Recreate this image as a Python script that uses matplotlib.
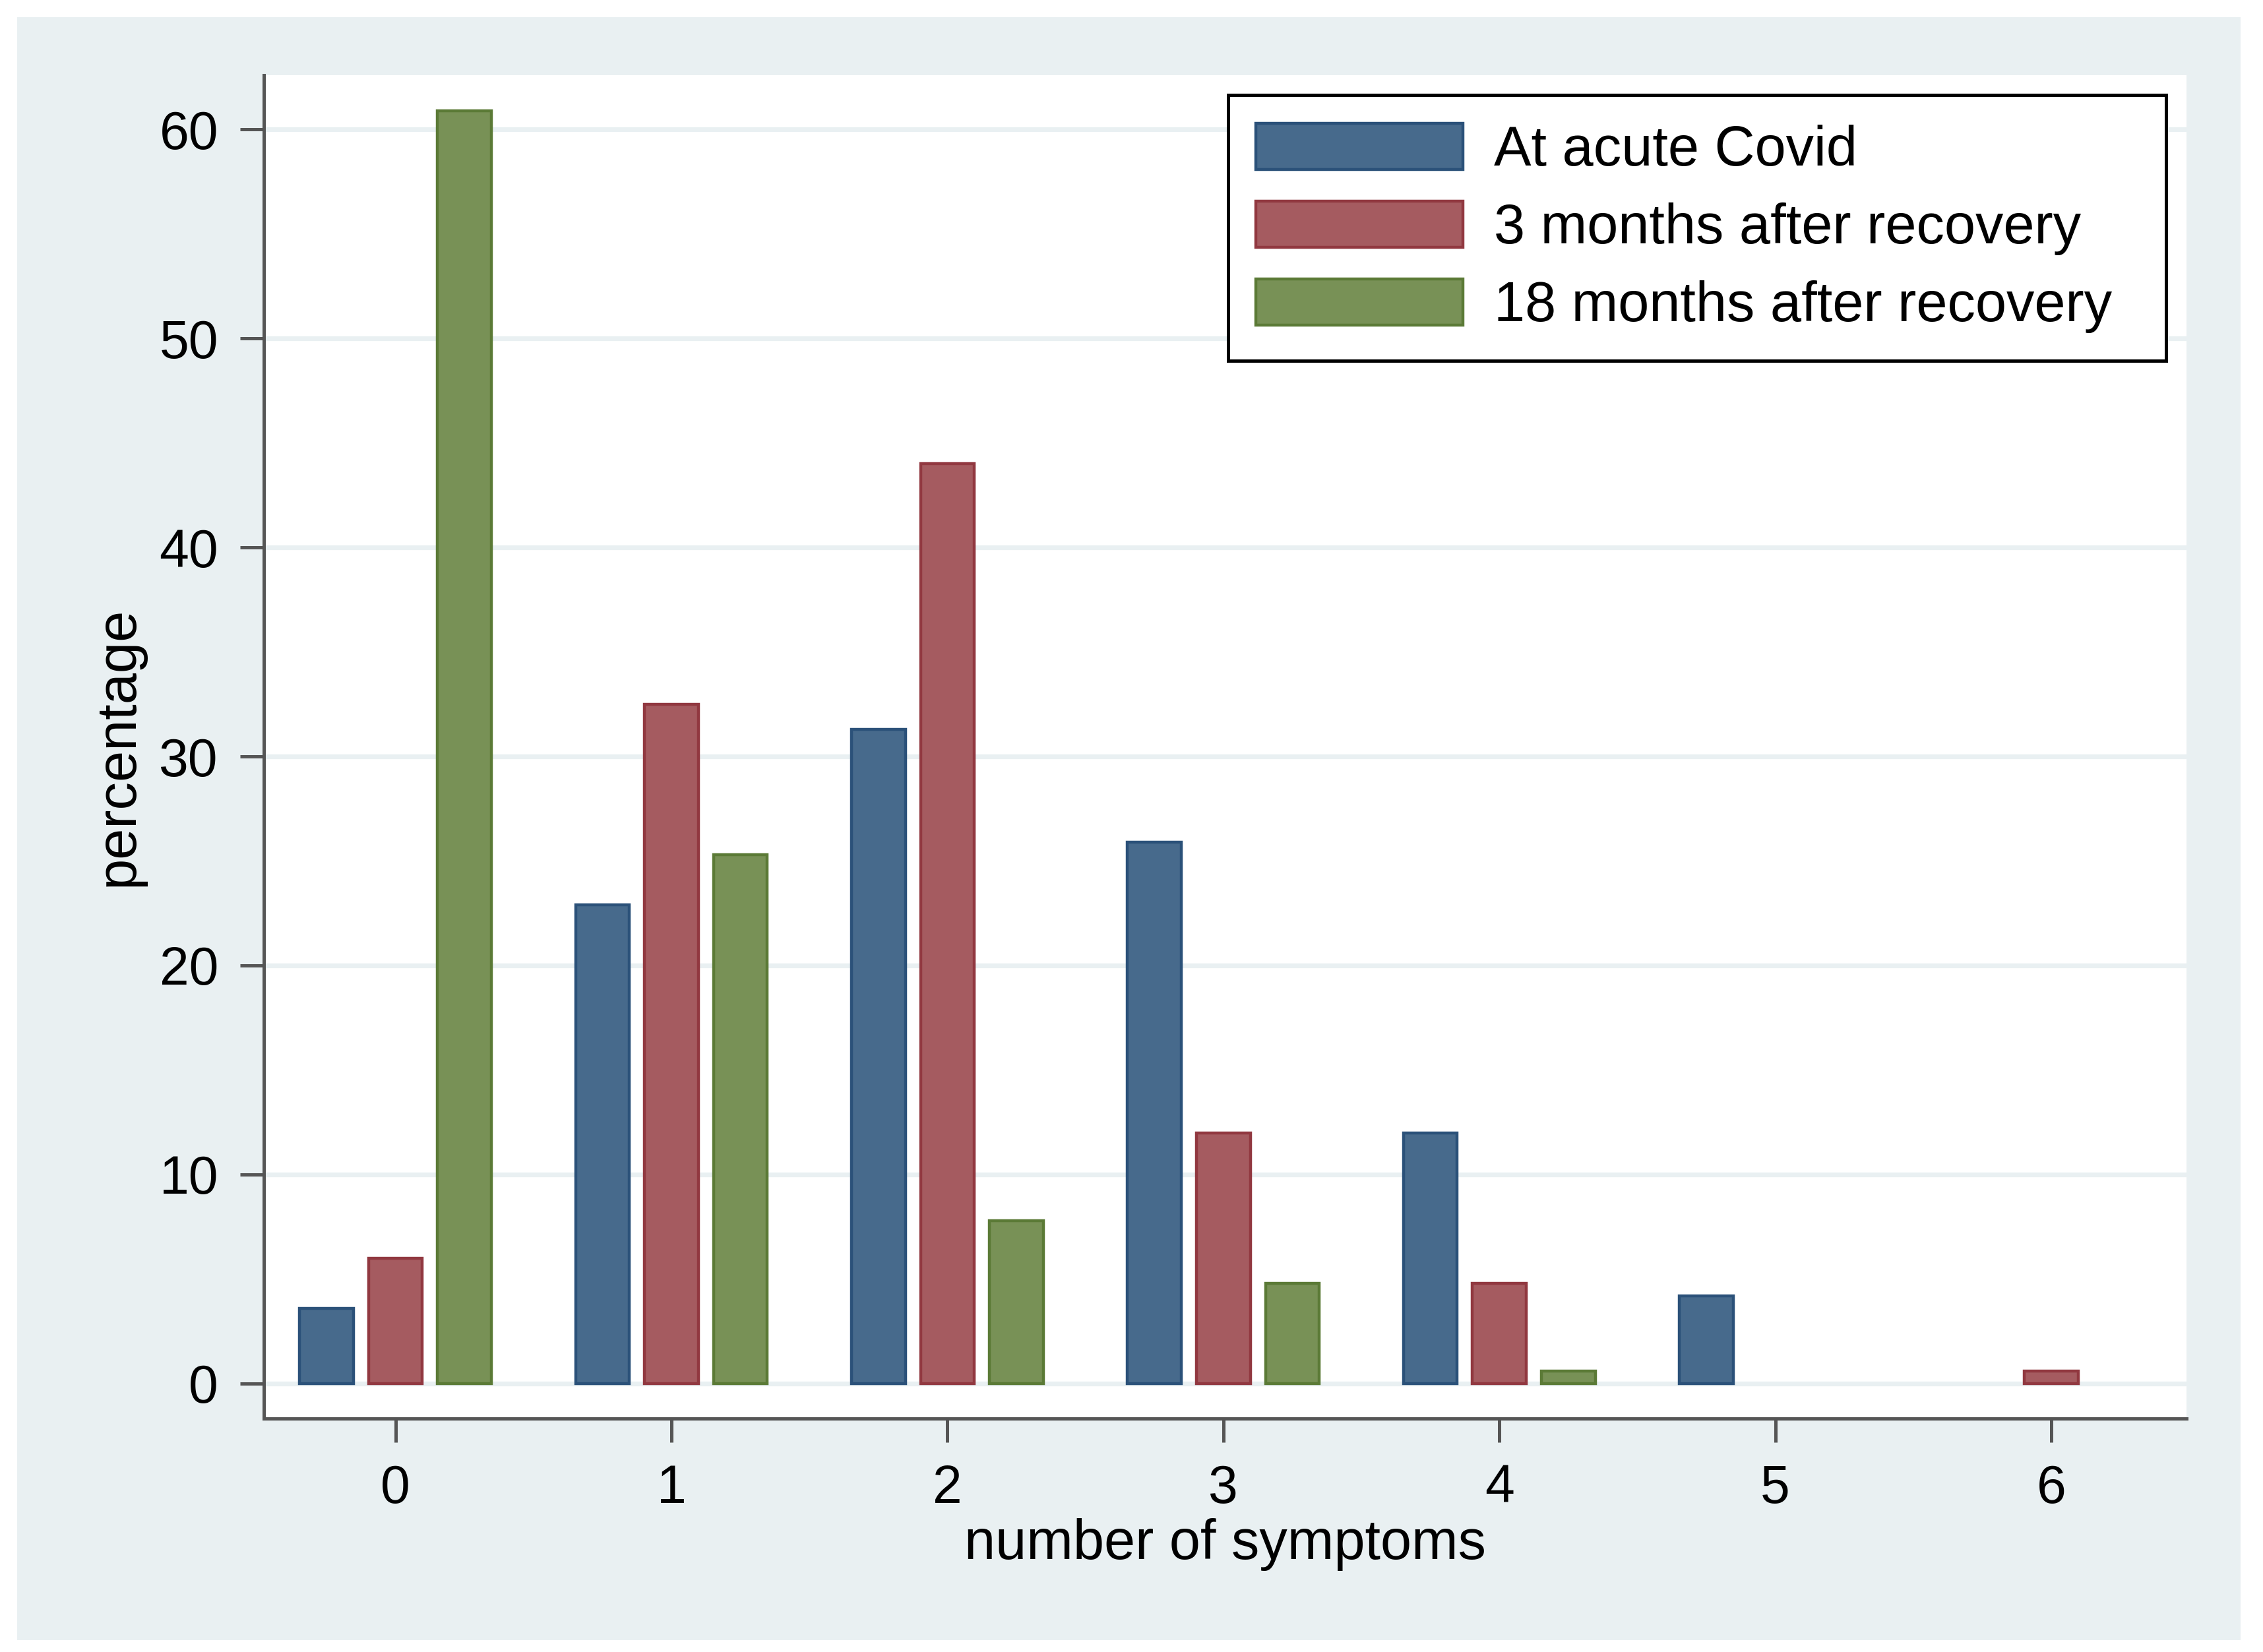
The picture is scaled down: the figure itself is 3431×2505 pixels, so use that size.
import matplotlib
matplotlib.use("Agg")
import matplotlib.pyplot as plt
import numpy as np
from matplotlib.patches import Rectangle

plt.rcParams["font.family"] = ["Liberation Sans", "DejaVu Sans"]

symptoms = [0, 1, 2, 3, 4, 5, 6]
series_names = ["At acute Covid", "3 months after recovery", "18 months after recovery"]
acute = [3.6, 22.9, 31.3, 25.9, 12.0, 4.2, 0.0]
months3 = [6.0, 32.5, 44.0, 12.0, 4.8, 0.0, 0.6]
months18 = [60.9, 25.3, 7.8, 4.8, 0.6, 0.0, 0.0]

fills = ["#476a8c", "#a55b60", "#789156"]
edges = ["#2b5179", "#913840", "#5b7a36"]
bg = "#e9f0f2"

fig = plt.figure(figsize=(3431 / 200, 2505 / 200), dpi=200, facecolor="white")
fig.patches.append(Rectangle((0.0077, 0.007), 0.9823, 0.9825, transform=fig.transFigure,
                             facecolor=bg, edgecolor="none", zorder=-10))
ax = fig.add_axes([0.1167, 0.1415, 0.8495, 0.8131])
ax.set_facecolor("white")

x = np.array(symptoms)
width = 0.195
offsets = [-0.25, 0.0, 0.25]
for vals, off, fc, ec, name in zip([acute, months3, months18], offsets, fills, edges, series_names):
    heights = np.array(vals)
    mask = heights > 0
    ax.bar(x[mask] + off, heights[mask], width=width, color=fc, edgecolor=ec,
           linewidth=1.6, label=name, zorder=3)

ax.set_xlim(-0.476, 6.49)
ax.set_ylim(-1.66, 62.6)
ax.set_xticks(symptoms)
ax.set_yticks(range(0, 61, 10))
ax.grid(axis="y", color=bg, linewidth=2.6, zorder=0)
ax.set_axisbelow(True)

for side in ["top", "right"]:
    ax.spines[side].set_visible(False)
for side in ["left", "bottom"]:
    ax.spines[side].set_color("#555555")
    ax.spines[side].set_linewidth(1.8)

ax.tick_params(axis="both", labelsize=29, color="#555555", width=1.8, length=13, pad=12)
ax.set_xlabel("number of symptoms", fontsize=30.5, labelpad=2)
ax.set_ylabel("percentage", fontsize=30.5, labelpad=8)

leg = ax.legend(loc="upper left", bbox_to_anchor=(0.5015, 0.792, 0.488, 0.193), mode="expand",
                fontsize=30.5, frameon=True, fancybox=False, edgecolor="black", framealpha=1,
                handlelength=3.7, handleheight=0.9, labelspacing=0.42,
                handletextpad=0.55, borderpad=0.5, borderaxespad=0)
leg.get_frame().set_linewidth(1.8)

fig.savefig("out.png", dpi=200, facecolor="white")
